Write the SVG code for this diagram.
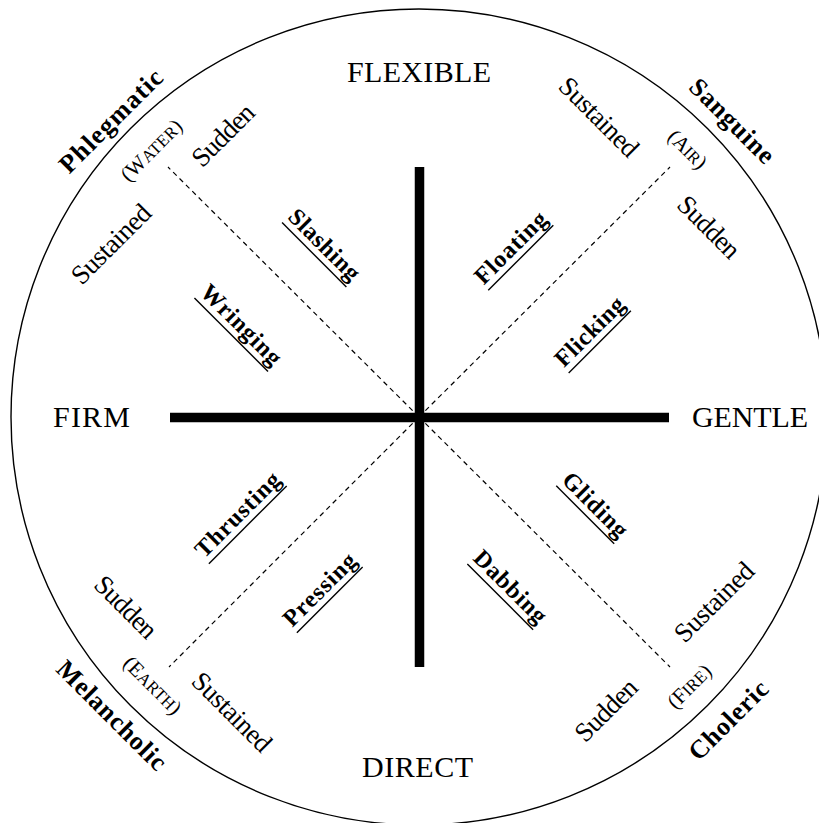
<svg xmlns="http://www.w3.org/2000/svg" width="819" height="823" viewBox="0 0 819 823">
<style>
text{font-family:"Liberation Serif","Times New Roman",serif;fill:#000;text-anchor:middle}
.axis{font-size:30px;text-anchor:start}
.reg{font-size:27px}
.temp{font-size:26px;font-weight:bold}
.elem{font-size:21px}
.elem tspan{font-size:17px}
.eff{font-size:24px;font-weight:bold}
.ul{stroke:#000;stroke-width:1.4}
.dash{stroke:#000;stroke-width:1.2;stroke-dasharray:5 4;fill:none}
.bar{stroke:#000;stroke-width:9.5}
</style>
<rect width="819" height="823" fill="#fff"/>
<circle cx="419" cy="417" r="408" fill="none" stroke="#000" stroke-width="1.4"/>
<g id="connectors">
<line class="dash" x1="419" y1="417" x2="168" y2="167"/>
<line class="dash" x1="419" y1="417" x2="670" y2="167"/>
<line class="dash" x1="419" y1="417" x2="169" y2="667"/>
<line class="dash" x1="419" y1="417" x2="670" y2="667"/>
<line class="bar" x1="170" y1="417.5" x2="669" y2="417.5"/>
<line class="bar" x1="419.5" y1="167" x2="419.5" y2="667"/>
</g>
<g id="axis-labels">
<text id="flexible" class="axis" x="347" y="82" textLength="144">FLEXIBLE</text>
<text id="firm" class="axis" x="53" y="427" textLength="77">FIRM</text>
<text id="gentle" class="axis" x="692" y="427" textLength="116">GENTLE</text>
<text id="direct" class="axis" x="362" y="777" textLength="111">DIRECT</text>
</g>
<g id="water">
<g transform="translate(112,122) rotate(-45)"><text class="temp" y="7" textLength="135">Phlegmatic</text></g>
<g transform="translate(152,151) rotate(-45)"><text class="elem" y="6" textLength="78">(W<tspan>ATER</tspan>)</text></g>
<g transform="translate(223,135) rotate(-45)"><text class="reg" y="9" textLength="77">Sudden</text></g>
<g transform="translate(111,244) rotate(-45)"><text class="reg" y="9" textLength="101">Sustained</text></g>
</g>
<g id="air">
<g transform="translate(731,122) rotate(45)"><text class="temp" y="7" textLength="109">Sanguine</text></g>
<g transform="translate(687,150) rotate(45)"><text class="elem" y="6" textLength="46">(A<tspan>IR</tspan>)</text></g>
<g transform="translate(599,117) rotate(45)"><text class="reg" y="9" textLength="101">Sustained</text></g>
<g transform="translate(709,227) rotate(45)"><text class="reg" y="9" textLength="77">Sudden</text></g>
</g>
<g id="earth">
<g transform="translate(112,715) rotate(45)"><text class="temp" y="9" textLength="144">Melancholic</text></g>
<g transform="translate(152,686) rotate(45)"><text class="elem" y="6" textLength="73">(E<tspan>ARTH</tspan>)</text></g>
<g transform="translate(126,607) rotate(45)"><text class="reg" y="9" textLength="77">Sudden</text></g>
<g transform="translate(232,712) rotate(45)"><text class="reg" y="9" textLength="101">Sustained</text></g>
</g>
<g id="fire">
<g transform="translate(728,720) rotate(-45)"><text class="temp" y="9" textLength="101">Choleric</text></g>
<g transform="translate(690,687) rotate(-45)"><text class="elem" y="6" textLength="53">(F<tspan>IRE</tspan>)</text></g>
<g transform="translate(714,602) rotate(-45)"><text class="reg" y="9" textLength="101">Sustained</text></g>
<g transform="translate(606,710) rotate(-45)"><text class="reg" y="9" textLength="77">Sudden</text></g>
</g>
<g id="slashing" transform="translate(322,247) rotate(45)"><text class="eff" y="4.5" textLength="91">Slashing</text><line class="ul" x1="-45.5" y1="11" x2="45.5" y2="11"/></g>
<g id="wringing" transform="translate(239,327) rotate(45)"><text class="eff" y="4.5" textLength="104">Wringing</text><line class="ul" x1="-52" y1="11" x2="52" y2="11"/></g>
<g id="floating" transform="translate(513,250) rotate(-45)"><text class="eff" y="4.5" textLength="92">Floating</text><line class="ul" x1="-46" y1="11" x2="46" y2="11"/></g>
<g id="flicking" transform="translate(592,334) rotate(-45)"><text class="eff" y="4.5" textLength="88">Flicking</text><line class="ul" x1="-44" y1="11" x2="44" y2="11"/></g>
<g id="thrusting" transform="translate(240,517) rotate(-45)"><text class="eff" y="4.5" textLength="110">Thrusting</text><line class="ul" x1="-55" y1="11" x2="55" y2="11"/></g>
<g id="pressing" transform="translate(322,592) rotate(-45)"><text class="eff" y="4.5" textLength="93">Pressing</text><line class="ul" x1="-46.5" y1="11" x2="46.5" y2="11"/></g>
<g id="gliding" transform="translate(593,507) rotate(45)"><text class="eff" y="4.5" textLength="82">Gliding</text><line class="ul" x1="-41" y1="11" x2="41" y2="11"/></g>
<g id="dabbing" transform="translate(508,589) rotate(45)"><text class="eff" y="4.5" textLength="93">Dabbing</text><line class="ul" x1="-46.5" y1="11" x2="46.5" y2="11"/></g>
</svg>
